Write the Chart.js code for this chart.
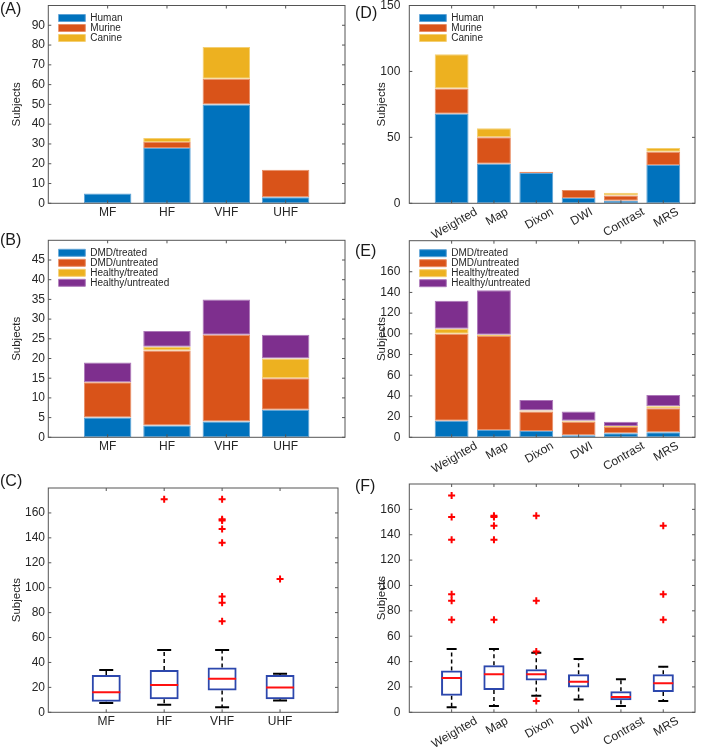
<!DOCTYPE html>
<html>
<head>
<meta charset="utf-8">
<script src="https://cdn.jsdelivr.net/npm/chart.js@4.4.1/dist/chart.umd.min.js"></script>
<style>
  html, body { margin: 0; padding: 0; background: #fff; }
  #fig { position: relative; width: 709px; height: 747px; overflow: hidden; font-family: 'Liberation Sans', Arial, sans-serif; }
  #fig canvas { position: absolute; }
  .tag { position: absolute; font-size: 16px; line-height: 16px; color: #1a1a1a; }
</style>
</head>
<body>
<div id="fig">
  <canvas id="chartA" width="354" height="238" style="left:0;top:0"></canvas>
  <canvas id="chartD" width="355" height="238" style="left:354px;top:0"></canvas>
  <canvas id="chartB" width="354" height="234" style="left:0;top:238px"></canvas>
  <canvas id="chartE" width="355" height="234" style="left:354px;top:238px"></canvas>
  <canvas id="chartC" width="354" height="275" style="left:0;top:472px"></canvas>
  <canvas id="chartF" width="355" height="275" style="left:354px;top:472px"></canvas>
  <div class="tag" style="left:0;top:1px">(A)</div>
  <div class="tag" style="left:355px;top:4.5px">(D)</div>
  <div class="tag" style="left:0;top:231.5px">(B)</div>
  <div class="tag" style="left:355px;top:242.5px">(E)</div>
  <div class="tag" style="left:0;top:472.5px">(C)</div>
  <div class="tag" style="left:355px;top:477.5px">(F)</div>
</div>
<script>
// categories
const fieldCats = ['MF', 'HF', 'VHF', 'UHF'];
const methodCats = ['Weighted', 'Map', 'Dixon', 'DWI', 'Contrast', 'MRS'];
const speciesNames = ['Human', 'Murine', 'Canine'];
const groupNames = ['DMD/treated', 'DMD/untreated', 'Healthy/treated', 'Healthy/untreated'];

// (A) subjects per field strength, by species
const aHuman = [5, 28, 50, 3];
const aMurine = [0, 3, 13, 14];
const aCanine = [0, 2, 16, 0];

// (B) subjects per field strength, by group
const bDmdTreated = [5, 3, 4, 7];
const bDmdUntreated = [9, 19, 22, 8];
const bHealthyTreated = [0, 1, 0, 5];
const bHealthyUntreated = [5, 4, 9, 6];

// (D) subjects per method, by species
const dHuman = [68, 30, 23, 4, 2, 29];
const dMurine = [19, 20, 1, 6, 4, 10];
const dCanine = [26, 7, 0, 0, 2, 3];

// (E) subjects per method, by group
const eDmdTreated = [16, 7, 6, 2, 4, 5];
const eDmdUntreated = [84, 91, 19, 13, 6, 23];
const eHealthyTreated = [5, 1, 1, 1, 1, 2];
const eHealthyUntreated = [27, 43, 10, 9, 4, 11];

// (C) box plot per field strength
const cLower = [7.5, 6, 4, 9.5];
const cQ1 = [8.5, 10.5, 17.5, 10.5];
const cMedian = [16, 22, 27, 20];
const cQ3 = [30, 34, 36, 30];
const cUpper = [34, 50, 50, 31];
const cOutliers = [[], [171], [171, 155, 154, 147, 136, 93, 88, 73], [107]];

// (F) box plot per method
const fLower = [4, 5, 13, 10, 5, 9];
const fQ1 = [13, 17.5, 25, 19.5, 9.5, 16];
const fMedian = [27, 30, 30, 24, 12, 23];
const fQ3 = [33, 37, 34, 30, 16.5, 30];
const fUpper = [50, 50, 47, 42, 26, 36];
const fOutliers = [[171, 154, 136, 93, 88, 73], [155, 154, 147, 136, 73], [155, 88, 48, 9], [], [], [147, 93, 73]];

// y ticks
const aTicks = [0, 10, 20, 30, 40, 50, 60, 70, 80, 90];
const bTicks = [0, 5, 10, 15, 20, 25, 30, 35, 40, 45];
const dTicks = [0, 50, 100, 150];
const eTicks = [0, 20, 40, 60, 80, 100, 120, 140, 160];
const boxTicks = [0, 20, 40, 60, 80, 100, 120, 140, 160];

const FONT = "'Liberation Sans', Arial, Helvetica, sans-serif";
const INK = '#262626';
const FRAME = '#555';
const colors = ['#0072BD', '#D95319', '#EDB120', '#7E2F8E'];
const edges = ['#5fa3d6', '#e88e66', '#f4cf73', '#ad78b9'];

// legend sits inside the axes, top left
const legendInside = {
  id: 'legendInside',
  afterLayout(chart) {
    const lg = chart.legend;
    if (!lg || !lg.options.display) return;
    const a = chart.chartArea;
    lg.left = a.left + 10;
    lg.top = a.top + 7.5;
    lg.bottom = a.bottom;
  }
};

// matlab centres rotated tick labels on the tick
const centreRotated = {
  id: 'centreRotated',
  beforeDraw(chart) {
    const x = chart.scales.x;
    if (!x.labelRotation) return;
    const ctx = chart.ctx;
    const cos = Math.cos(x.labelRotation * Math.PI / 180);
    x.getLabelItems().forEach(it => {
      if (it._moved) return;
      ctx.font = it.font.string;
      const w = ctx.measureText(it.label).width;
      it.options.translation[0] += w * cos / 2 + 3;
      it._moved = true;
    });
  }
};

// axes box with inward ticks on all sides
const frame = {
  id: 'frame',
  afterDraw(chart) {
    const { ctx, chartArea: a, scales: { x, y } } = chart;
    const t = 3;
    ctx.save();
    ctx.strokeStyle = FRAME;
    ctx.lineWidth = 1;
    ctx.strokeRect(a.left, a.top, a.right - a.left, a.bottom - a.top);
    ctx.beginPath();
    y.ticks.forEach(tk => {
      const py = y.getPixelForValue(tk.value);
      ctx.moveTo(a.left, py); ctx.lineTo(a.left + t, py);
      ctx.moveTo(a.right, py); ctx.lineTo(a.right - t, py);
    });
    x.ticks.forEach(tk => {
      const px = x.getPixelForValue(tk.value);
      ctx.moveTo(px, a.bottom); ctx.lineTo(px, a.bottom - t);
      ctx.moveTo(px, a.top); ctx.lineTo(px, a.top + t);
    });
    ctx.stroke();
    ctx.restore();
  }
};

function stackedSets(names, series) {
  return series.map((vals, k) => ({
    label: names[k],
    data: vals.map((v, i) => ({ x: i + 1, y: v })),
    backgroundColor: colors[k],
    borderColor: edges[k],
    borderWidth: 1,
    borderSkipped: false,
    categoryPercentage: 0.8,
    barPercentage: 1
  }));
}

function boxSets(lower, q1, med, q3, upper, outliers, capR, medR) {
  const whiskers = [];
  const caps = [];
  const outs = [];
  lower.forEach((lo, i) => {
    const x = i + 1;
    whiskers.push({ x, y: q3[i] }, { x, y: upper[i] }, { x, y: null },
                  { x, y: q1[i] }, { x, y: lo }, { x, y: null });
    caps.push({ x, y: lo }, { x, y: upper[i] });
    outliers[i].forEach(v => outs.push({ x, y: v }));
  });
  return [
    { type: 'scatter', data: outs, pointStyle: 'cross', pointRadius: 3.5,
      pointBorderColor: '#ff0000', pointBorderWidth: 2, order: 0 },
    { type: 'scatter', data: med.map((v, i) => ({ x: i + 1, y: v })), pointStyle: 'line',
      pointRadius: medR, pointBorderColor: '#ff1010', pointBorderWidth: 2, order: 1 },
    { type: 'bar', data: q1.map((v, i) => ({ x: i + 1, y: [v, q3[i]] })),
      backgroundColor: 'rgba(255,255,255,0)', borderColor: '#2c47ad', borderWidth: 2,
      borderSkipped: false, categoryPercentage: 0.5, barPercentage: 1, order: 2 },
    { type: 'scatter', data: caps, pointStyle: 'line', pointRadius: capR,
      pointBorderColor: '#000', pointBorderWidth: 2, order: 3 },
    { type: 'line', data: whiskers, borderColor: '#000', borderWidth: 1.5,
      borderDash: [4, 3], pointRadius: 0, spanGaps: false, order: 4 }
  ];
}

function makeChart(p) {
  const left = p.col === 0;
  const rot = p.rotate ? 30 : 0;
  new Chart(document.getElementById(p.id), {
    type: 'bar',
    data: { datasets: p.datasets },
    options: {
      responsive: false,
      animation: false,
      events: [],
      layout: { padding: { top: p.padTop, right: left ? 9 : 14, left: 0, bottom: 0 } },
      plugins: {
        tooltip: { enabled: false },
        legend: {
          display: !!p.legend,
          position: 'chartArea',
          align: 'start',
          fullSize: false,
          labels: { boxWidth: 27, boxHeight: 7, padding: 0, color: INK, font: { family: FONT, size: 10 } }
        }
      },
      scales: {
        x: {
          type: 'linear', min: 0, max: p.xMax, offset: false, stacked: !!p.stacked,
          afterBuildTicks: s => { s.ticks = p.cats.map((c, i) => ({ value: i + 1 })); },
          afterFit: s => { s.height = p.xH; s.paddingLeft = 0; s.paddingRight = 0; },
          grid: { display: false, drawTicks: false },
          border: { display: false },
          ticks: {
            autoSkip: false, minRotation: rot, maxRotation: rot, padding: p.rotate ? 1.5 : 2.5,
            color: INK, font: { family: FONT, size: 12 },
            callback: (v, i) => p.cats[i]
          }
        },
        y: {
          type: 'linear', min: 0, max: p.yMax, stacked: !!p.stacked,
          afterBuildTicks: s => { s.ticks = p.yTicks.map(v => ({ value: v })); },
          afterFit: s => { s.width = left ? 48.3 : 55.3; s.paddingTop = 0; s.paddingBottom = 0; },
          grid: { display: false, drawTicks: false },
          border: { display: false },
          ticks: { autoSkip: false, padding: left ? 3.3 : 9, color: INK, font: { family: FONT, size: 12 },
                   callback: v => String(v) },
          title: { display: true, text: 'Subjects', color: INK, font: { family: FONT, size: 11.5 },
                   padding: { top: left ? 9.8 : 20.8, bottom: 0 } }
        }
      }
    },
    plugins: [legendInside, centreRotated, frame]
  });
}

makeChart({ id: 'chartA', col: 0, cats: fieldCats, xMax: 5, yMax: 100, yTicks: aTicks,
  padTop: 5.5, xH: 34.7, stacked: true, legend: true,
  datasets: stackedSets(speciesNames, [aHuman, aMurine, aCanine]) });

makeChart({ id: 'chartD', col: 1, cats: methodCats, xMax: 6.75, yMax: 150, yTicks: dTicks,
  padTop: 5.5, xH: 34.7, stacked: true, legend: true, rotate: true,
  datasets: stackedSets(speciesNames, [dHuman, dMurine, dCanine]) });

makeChart({ id: 'chartB', col: 0, cats: fieldCats, xMax: 5, yMax: 50, yTicks: bTicks,
  padTop: 2.3, xH: 34.7, stacked: true, legend: true,
  datasets: stackedSets(groupNames, [bDmdTreated, bDmdUntreated, bHealthyTreated, bHealthyUntreated]) });

makeChart({ id: 'chartE', col: 1, cats: methodCats, xMax: 6.75, yMax: 190, yTicks: eTicks,
  padTop: 2.7, xH: 34.7, stacked: true, legend: true, rotate: true,
  datasets: stackedSets(groupNames, [eDmdTreated, eDmdUntreated, eHealthyTreated, eHealthyUntreated]) });

makeChart({ id: 'chartC', col: 0, cats: fieldCats, xMax: 5, yMax: 180, yTicks: boxTicks,
  padTop: 2.3, xH: 34.7,
  datasets: boxSets(cLower, cQ1, cMedian, cQ3, cUpper, cOutliers, 7, 14) });

makeChart({ id: 'chartF', col: 1, cats: methodCats, xMax: 6.75, yMax: 180, yTicks: boxTicks,
  padTop: 2.3, xH: 34.7, rotate: true,
  datasets: boxSets(fLower, fQ1, fMedian, fQ3, fUpper, fOutliers, 5, 10) });
</script>
</body>
</html>
